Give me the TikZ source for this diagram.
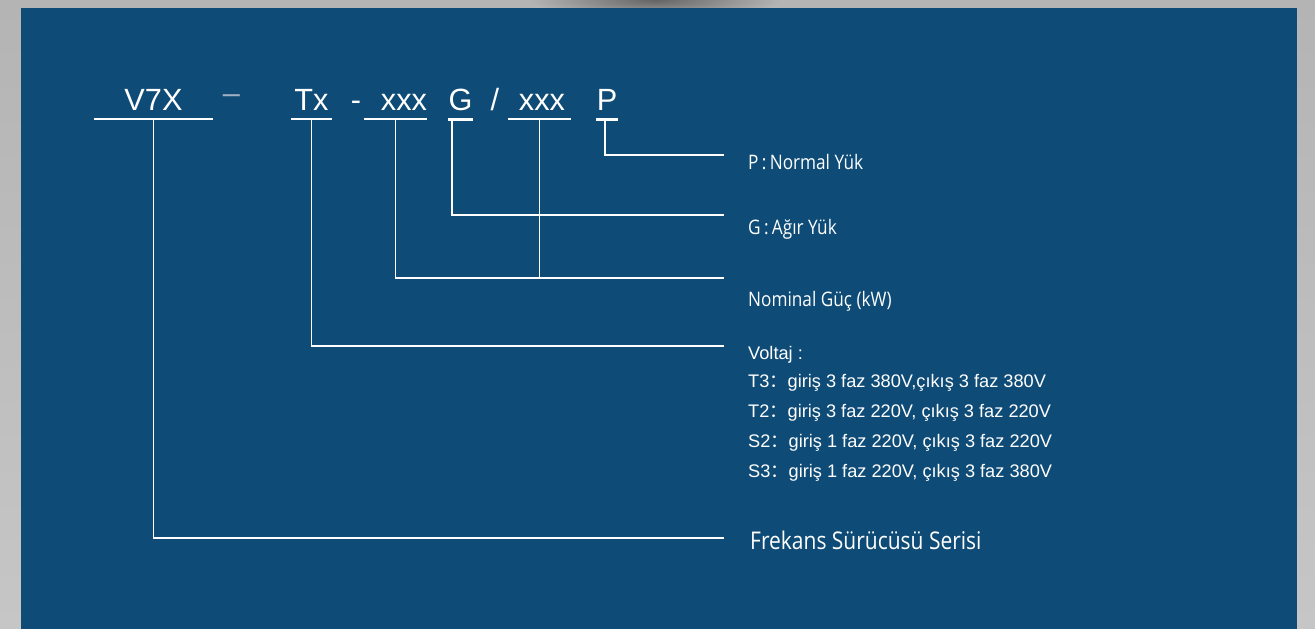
\documentclass[tikz,border=0pt]{standalone}
\usepackage{fontspec}
\setmainfont{Liberation Sans}
\newfontfamily\labelfamily[FakeStretch=0.86]{Open Sans}
\newfontfamily\cjk{Noto Sans CJK SC}
\usetikzlibrary{positioning,calc}
\definecolor{panelblue}{RGB}{14,75,118}
\definecolor{framegray}{RGB}{180,180,180}
\definecolor{framegraylow}{RGB}{198,198,198}
\definecolor{shadowgray}{RGB}{100,100,100}
\definecolor{dashgray}{RGB}{160,176,194}
\newcommand{\modelfont}{\fontsize{30.7}{32}\selectfont}
\newcommand{\descfont}{\labelfamily\fontsize{20}{24}\selectfont}
\newcommand{\voltfont}{\fontsize{18.2}{22}\selectfont}
\newcommand{\seriesfont}{\labelfamily\fontsize{24.4}{28}\selectfont}

\begin{document}
\begin{tikzpicture}[
    x=1pt, y=-1pt,
    % Stili per il codice del modello
    codepart/.style={inner sep=0pt, anchor=base, text=white, text height=22pt, text depth=9pt, font=\modelfont},
    underline/.style={draw=white, line width=1.8pt},
    boldline/.style={draw=white, line width=3pt},
    % Stili per le connessioni
    leader/.style={draw=white, line width=1.8pt},
    % Stili per le etichette
    desctext/.style={anchor=base west, inner sep=0pt, text=white, font=\descfont},
    volttext/.style={anchor=base west, inner sep=0pt, text=white, font=\voltfont},
    seriestext/.style={anchor=base west, inner sep=0pt, text=white, font=\seriesfont}
]

% === SFONDO ===
\useasboundingbox (0,0) rectangle (1315,629);
\shade[top color=framegray, bottom color=framegraylow] (0,0) rectangle (1315,629);
\begin{scope}
    \clip (0,0) rectangle (1315,8);
    \shade[inner color=shadowgray, outer color=framegray] (655,0) ellipse [x radius=125pt, y radius=18pt];
\end{scope}
\fill[panelblue] (21,8) rectangle (1297,629);

% === CODICE DEL MODELLO ===
\node[codepart, minimum width=119pt] (series) at (153.5,110) {V7X};
\node[codepart, text=dashgray] (dash) at (231.5,103.4) {–};
\node[codepart, minimum width=41pt] (volt) at (311.5,110) {Tx};
\node[codepart] (hyph) at (356,110) {-};
\node[codepart, text width=63pt, align=right] (power) at (395.5,110) {xxx};
\node[codepart, minimum width=25pt] (heavy) at (460.5,110) {G};
\node[codepart] (slash) at (495,110) {/};
\node[codepart, minimum width=63pt] (power2) at (539.5,110) {\hspace{5pt}xxx};
\node[codepart, minimum width=22pt] (normal) at (607,110) {P};

% sottolineature
\draw[underline] (series.south west) -- (series.south east);
\draw[underline] (volt.south west) -- (volt.south east);
\draw[underline] (power.south west) -- (power.south east);
\draw[boldline] (heavy.south west) -- (heavy.south east);
\draw[underline] (power2.south west) -- (power2.south east);
\draw[boldline] (normal.south west) -- (normal.south east);

% === ETICHETTE ===
\node[desctext] (lblP) at (748,169.3) {P\,:\,Normal Yük};
\node[desctext] (lblG) at (748,234.3) {G\,:\,Ağır Yük};
\node[desctext] (lblKW) at (748,306) {Nominal Güç (kW)};
\node[volttext] (lblV) at (748,359) {Voltaj :};
\node[volttext] (lblT3) at (748,387.5) {T3{\cjk ：}giriş 3 faz 380V,çıkış 3 faz 380V};
\node[volttext] (lblT2) at (748,417.5) {T2{\cjk ：}giriş 3 faz 220V, çıkış 3 faz 220V};
\node[volttext] (lblS2) at (748,447.5) {S2{\cjk ：}giriş 1 faz 220V, çıkış 3 faz 220V};
\node[volttext] (lblS3) at (748,477.5) {S3{\cjk ：}giriş 1 faz 220V, çıkış 3 faz 380V};
\node[seriestext] (lblS) at (750,549) {Frekans Sürücüsü Serisi};

% === CONNESSIONI ===
\coordinate (endP) at (724,155);
\coordinate (endG) at (724,215);
\coordinate (endKW) at (724,278);
\coordinate (endV) at (724,346);
\coordinate (endS) at (724,538);

\draw[leader] ([xshift=-2pt]normal.south) |- (endP);
\draw[leader] ([xshift=-8.5pt]heavy.south) |- (endG);
\draw[leader] (power.south) |- (endKW);
\draw[leader] (power2.south) -- (power2.south |- endKW);
\draw[leader] (volt.south) |- (endV);
\draw[leader] (series.south) |- (endS);

\end{tikzpicture}
\end{document}
